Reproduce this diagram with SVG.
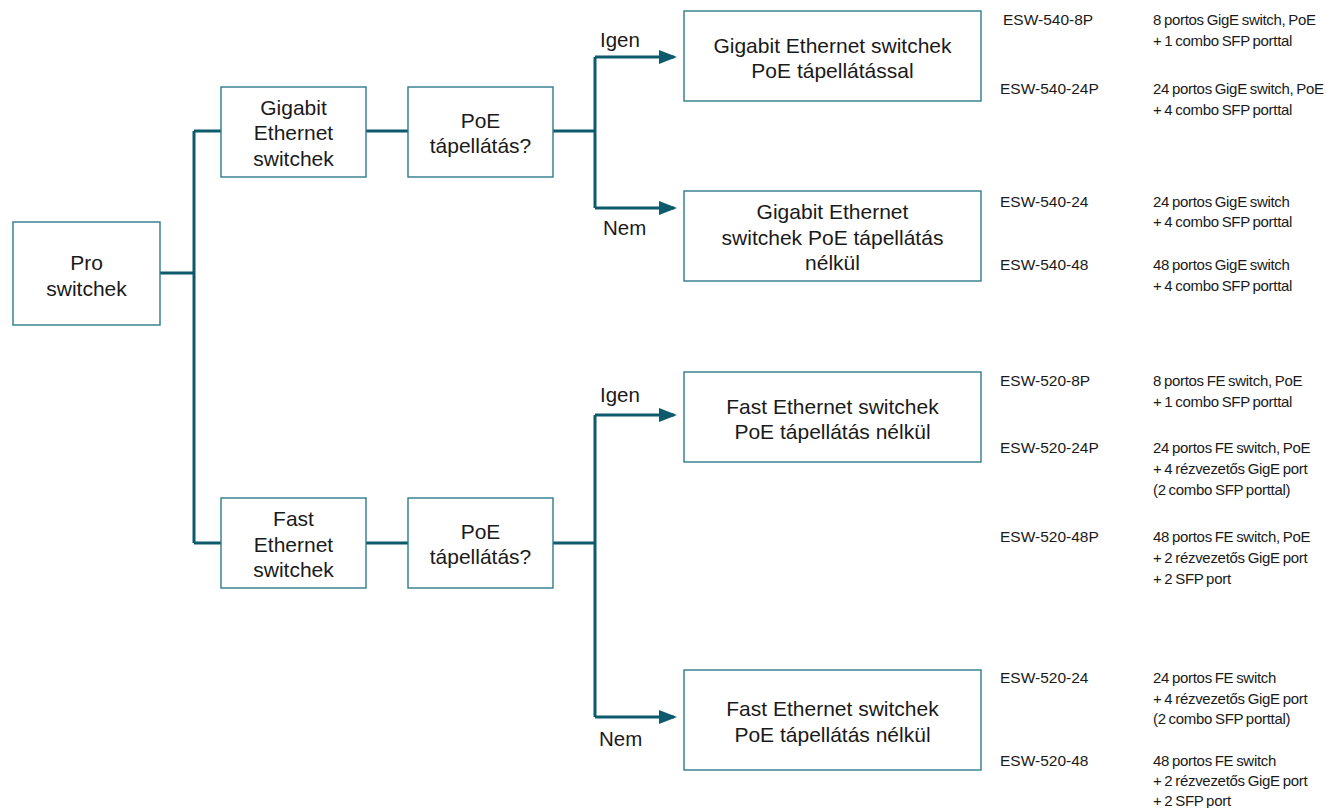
<svg xmlns="http://www.w3.org/2000/svg" width="1327" height="808" viewBox="0 0 1327 808">
<style>
.box{fill:#fff;stroke:#2e7a8c;stroke-width:1.4}
.c{fill:none;stroke:#0d5a6c;stroke-width:3}
.t{font-family:"Liberation Sans",Arial,sans-serif;font-size:21px;fill:#1a1a1a;text-anchor:middle}
.l{font-family:"Liberation Sans",Arial,sans-serif;font-size:20.5px;fill:#1a1a1a}
.n{font-family:"Liberation Sans",Arial,sans-serif;font-size:15.5px;fill:#1a1a1a}
.m{font-family:"Liberation Sans",Arial,sans-serif;font-size:15px;fill:#1a1a1a;letter-spacing:-0.3px;word-spacing:-1px}
</style>
<defs>
<marker id="ah" markerWidth="6" markerHeight="4.6" refX="5" refY="2.3" orient="auto" markerUnits="strokeWidth">
<path d="M0,0 L6,2.3 L0,4.6 Z" fill="#0d5a6c"/>
</marker>
</defs>
<rect width="1327" height="808" fill="#fff"/>
<g id="connectors">
<path class="c" d="M160,273 H194"/>
<path class="c" d="M194,131 V543"/>
<path class="c" d="M194,131 H221"/>
<path class="c" d="M194,543 H221"/>
<path class="c" d="M366,131 H408"/>
<path class="c" d="M366,543 H408"/>
<path class="c" d="M553,131 H595"/>
<path class="c" d="M553,543 H595"/>
<path class="c" d="M595,57 V208"/>
<path class="c" d="M595,415 V717"/>
<path class="c" d="M595,57 H674" marker-end="url(#ah)"/>
<path class="c" d="M595,208 H674" marker-end="url(#ah)"/>
<path class="c" d="M595,415 H674" marker-end="url(#ah)"/>
<path class="c" d="M595,717 H674" marker-end="url(#ah)"/>
<text class="l" x="600" y="47">Igen</text>
<text class="l" x="603" y="235">Nem</text>
<text class="l" x="600" y="402">Igen</text>
<text class="l" x="599" y="746">Nem</text>
</g>
<g id="pro">
<rect class="box" x="13" y="222" width="147" height="103"/>
<text class="t" x="86.5" y="270">Pro</text>
<text class="t" x="86.5" y="296">switchek</text>
</g>
<g id="gig">
<rect class="box" x="221" y="87" width="145" height="90"/>
<text class="t" x="293.5" y="115">Gigabit</text>
<text class="t" x="293.5" y="140">Ethernet</text>
<text class="t" x="293.5" y="166">switchek</text>
</g>
<g id="poe1">
<rect class="box" x="408" y="87" width="145" height="90"/>
<text class="t" x="480.5" y="128">PoE</text>
<text class="t" x="480.5" y="153">tápellátás?</text>
</g>
<g id="fast">
<rect class="box" x="221" y="498" width="145" height="90"/>
<text class="t" x="293.5" y="526">Fast</text>
<text class="t" x="293.5" y="552">Ethernet</text>
<text class="t" x="293.5" y="577">switchek</text>
</g>
<g id="poe2">
<rect class="box" x="408" y="498" width="145" height="90"/>
<text class="t" x="480.5" y="539">PoE</text>
<text class="t" x="480.5" y="564">tápellátás?</text>
</g>
<g id="res1">
<rect class="box" x="684" y="11" width="297" height="90"/>
<text class="t" x="832.5" y="53">Gigabit Ethernet switchek</text>
<text class="t" x="832.5" y="78">PoE tápellátással</text>
</g>
<g id="res2">
<rect class="box" x="684" y="191" width="297" height="90"/>
<text class="t" x="832.5" y="219">Gigabit Ethernet</text>
<text class="t" x="832.5" y="245">switchek PoE tápellátás</text>
<text class="t" x="832.5" y="270">nélkül</text>
</g>
<g id="res3">
<rect class="box" x="684" y="372" width="297" height="90"/>
<text class="t" x="832.5" y="414">Fast Ethernet switchek</text>
<text class="t" x="832.5" y="439">PoE tápellátás nélkül</text>
</g>
<g id="res4">
<rect class="box" x="684" y="670" width="297" height="100"/>
<text class="t" x="832.5" y="716">Fast Ethernet switchek</text>
<text class="t" x="832.5" y="742">PoE tápellátás nélkül</text>
</g>
<g id="models">
<text class="n" x="1003" y="25">ESW-540-8P</text>
<text class="m" x="1153" y="25">8 portos GigE switch, PoE</text>
<text class="m" x="1153" y="46">+ 1 combo SFP porttal</text>
<text class="n" x="1000" y="94">ESW-540-24P</text>
<text class="m" x="1153" y="94">24 portos GigE switch, PoE</text>
<text class="m" x="1153" y="115">+ 4 combo SFP porttal</text>
<text class="n" x="1000" y="207">ESW-540-24</text>
<text class="m" x="1153" y="207">24 portos GigE switch</text>
<text class="m" x="1153" y="227">+ 4 combo SFP porttal</text>
<text class="n" x="1000" y="270">ESW-540-48</text>
<text class="m" x="1153" y="270">48 portos GigE switch</text>
<text class="m" x="1153" y="291">+ 4 combo SFP porttal</text>
<text class="n" x="1000" y="386">ESW-520-8P</text>
<text class="m" x="1153" y="386">8 portos FE switch, PoE</text>
<text class="m" x="1153" y="407">+ 1 combo SFP porttal</text>
<text class="n" x="1000" y="453">ESW-520-24P</text>
<text class="m" x="1153" y="453">24 portos FE switch, PoE</text>
<text class="m" x="1153" y="474">+ 4 rézvezetős GigE port</text>
<text class="m" x="1153" y="495">(2 combo SFP porttal)</text>
<text class="n" x="1000" y="542">ESW-520-48P</text>
<text class="m" x="1153" y="542">48 portos FE switch, PoE</text>
<text class="m" x="1153" y="563">+ 2 rézvezetős GigE port</text>
<text class="m" x="1153" y="584">+ 2 SFP port</text>
<text class="n" x="1000" y="683">ESW-520-24</text>
<text class="m" x="1153" y="683">24 portos FE switch</text>
<text class="m" x="1153" y="704">+ 4 rézvezetős GigE port</text>
<text class="m" x="1153" y="724">(2 combo SFP porttal)</text>
<text class="n" x="1000" y="766">ESW-520-48</text>
<text class="m" x="1153" y="766">48 portos FE switch</text>
<text class="m" x="1153" y="786">+ 2 rézvezetős GigE port</text>
<text class="m" x="1153" y="806">+ 2 SFP port</text>
</g>
</svg>
